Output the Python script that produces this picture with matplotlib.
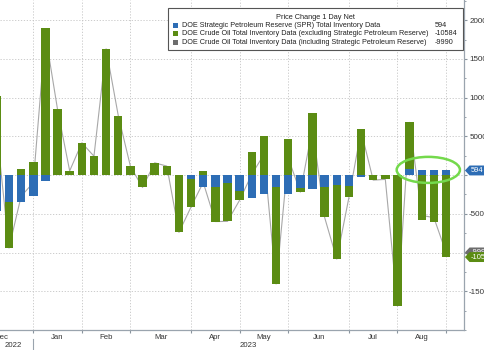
import matplotlib
matplotlib.use('Agg')
import matplotlib.pyplot as plt
import matplotlib.transforms as mtransforms
from matplotlib.patches import Ellipse, Rectangle, Polygon
from matplotlib.ticker import MultipleLocator
import numpy as np

plt.rcParams['font.family'] = ['Liberation Sans', 'DejaVu Sans']

# weekly changes, thousands of barrels (Dec 2022 - Aug 2023)
spr = [-4600, -3480, -3450, -2670, -780, 0, 0, 0, 0, 0,
       0, 0, 0, 0, 0, 0, -530, -1500, -1500, -1080,
       -2030, -2900, -2400, -1500, -2400, -1700, -1860, -1600, -1300, -1430,
       -300, 0, 0, 0, 730, 600, 600, 594]
crude = [10200, -5940, 720, 1690, 18940, 8470, 540, 4160, 2440, 16300,
         7690, 1150, -1600, 1580, 1160, -7400, -3570, 550, -4500, -4900,
         -1200, 3000, 5060, -12560, 4600, -500, 7950, -3870, -9550, -1460,
         6000, -650, -560, -16900, 6070, -5800, -6100, -10584]
total = [5600, -9420, -2730, -980, 18160, 8470, 540, 4160, 2440, 16300,
         7690, 1150, -1600, 1580, 1160, -7400, -4100, -950, -6000, -5980,
         -3230, 100, 2660, -14060, 2200, -2200, 6090, -5470, -10850, -2890,
         5700, -650, -560, -16900, 6800, -5200, -5500, -9990]

months = ['Dec', 'Jan', 'Feb', 'Mar', 'Apr', 'May', 'Jun', 'Jul', 'Aug']
month_pos = [0.35, 5, 9, 13.5, 18, 22, 26.5, 31, 35]
month_starts = [3, 7, 11, 16, 20, 24, 29, 33, 37]
years = ['2022', '2023']
year_pos = [1.33, 20.7]

BLUE = '#2d6db5'
GREEN = '#5b8c13'
GREY = '#6d6d6d'

fig = plt.figure(figsize=(4.85, 3.5), dpi=100)
ax = fig.add_axes([0, 20 / 350, 464 / 485, 330 / 350])

x = np.arange(len(spr))
s = np.array(spr)
c = np.array(crude)
green_bottom = np.where(c >= 0, np.maximum(s, 0), np.minimum(s, 0))

ax.plot(x, total, color='#a8a8a8', lw=0.8, zorder=2)
ax.bar(x, s, width=0.7, color=BLUE, zorder=3)
ax.bar(x, c, bottom=green_bottom, width=0.7, color=GREEN, zorder=3)

ax.set_xlim(0.26, 38.48)
ax.set_ylim(-20000, 22600)

for side in ['left', 'top']:
    ax.spines[side].set_visible(False)
for side in ['right', 'bottom']:
    ax.spines[side].set_color('#9aa4ae')
    ax.spines[side].set_linewidth(0.9)

# y axis on the right
ax.yaxis.tick_right()
yt = list(range(-15000, 20001, 5000))
ax.set_yticks(yt)
ax.set_yticklabels(['' if v in (0, -10000) else str(v) for v in yt])
ax.yaxis.set_minor_locator(MultipleLocator(2500))
ax.tick_params(axis='y', which='major', direction='out', length=2.5, pad=1.2,
               labelsize=5.8, labelcolor='#333333', color='#8a949e')
ax.tick_params(axis='y', which='minor', direction='out', length=1.2, color='#8a949e')

# x axis: ticks at first bar of each month
ax.set_xticks(month_starts)
ax.set_xticklabels([])
ax.tick_params(axis='x', direction='out', length=2.5, color='#8a949e')

ax.grid(True, color='#c4c4c4', lw=0.6, linestyle=(0, (1.5, 2)))
ax.set_axisbelow(True)

tb = mtransforms.blended_transform_factory(ax.transData, ax.transAxes)
for m, p in zip(months, month_pos):
    ax.text(p, -0.022, m, transform=tb, ha='center', va='center',
            fontsize=5.6, color='#333333', clip_on=False)
for yl, p in zip(years, year_pos):
    ax.text(p, -0.048, yl, transform=tb, ha='center', va='center',
            fontsize=5.6, color='#333333', clip_on=False)
ax.plot([3, 3], [-0.026, -0.07], transform=tb, color='#9aa4ae', lw=0.8, clip_on=False)

# highlight ellipse
ax.add_patch(Ellipse((35.54, 670), 5.21, 3360, fill=False, ec='#74d94c', lw=1.8, zorder=5))

# value tags on the right axis
tr = mtransforms.blended_transform_factory(ax.transAxes, ax.transData)


def tag(val, color, text, z):
    h = 640
    pts = [(1.002, val), (1.012, val + h), (1.1, val + h), (1.1, val - h), (1.012, val - h)]
    ax.add_patch(Polygon(pts, closed=True, transform=tr, fc=color, ec='none',
                         clip_on=False, zorder=z))
    ax.text(1.014, val, text, transform=tr, color='white', fontsize=5.4,
            ha='left', va='center', clip_on=False, zorder=z + 0.1)


tag(594, BLUE, '594', 7)
tag(-9990, GREY, '-9990', 7)
tag(-10584, GREEN, '-10584', 8)

# legend box
ax.add_patch(Rectangle((0.362, 0.848), 0.636, 0.128, transform=ax.transAxes,
                       fc='white', ec='#555555', lw=0.8, zorder=6))
ax.text(0.68, 0.948, 'Price Change 1 Day Net', transform=ax.transAxes,
        ha='center', va='center', fontsize=5.3, color='#222222', zorder=7)
entries = [
    ('DOE Strategic Petroleum Reserve (SPR) Total Inventory Data', BLUE, '594'),
    ('DOE Crude Oil Total Inventory Data (excluding Strategic Petroleum Reserve)', GREEN, '-10584'),
    ('DOE Crude Oil Total Inventory Data (including Strategic Petroleum Reserve)', GREY, '-9990'),
]
for (label, col, val), yy in zip(entries, [0.924, 0.899, 0.871]):
    ax.add_patch(Rectangle((0.372, yy - 0.0076), 0.0108, 0.0152,
                           transform=ax.transAxes, fc=col, ec='none', zorder=7))
    ax.text(0.3916, yy, label, transform=ax.transAxes, ha='left', va='center',
            fontsize=5.2, color='#222222', zorder=7)
    ax.text(0.9375, yy, val, transform=ax.transAxes, ha='left', va='center',
            fontsize=5.2, color='#222222', zorder=7)

fig.savefig('out.png', dpi=100)
